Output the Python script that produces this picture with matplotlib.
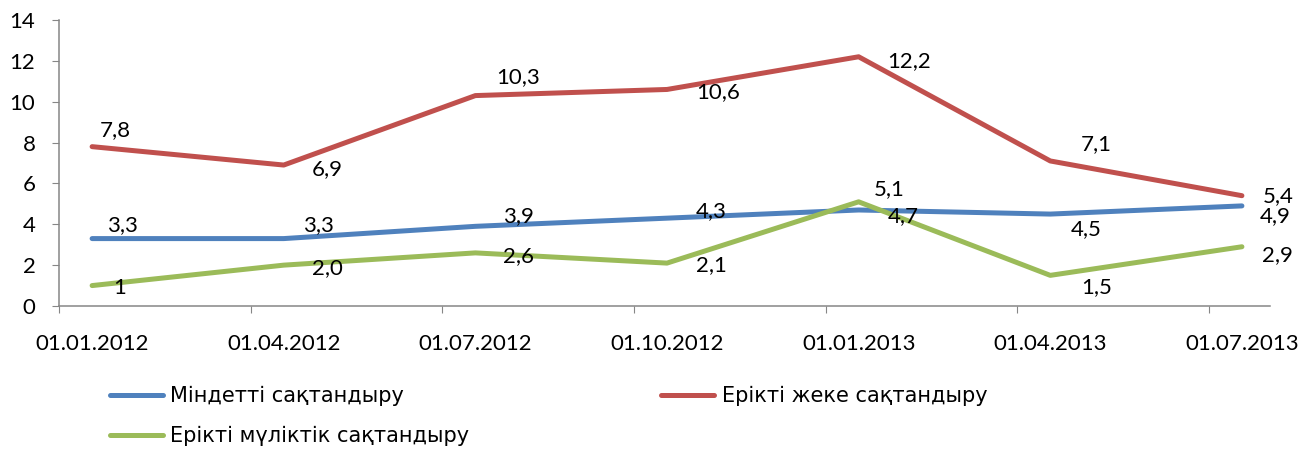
import numpy as np
import matplotlib
matplotlib.use('Agg')
import matplotlib.pyplot as plt

# data
dates = ['01.01.2012', '01.04.2012', '01.07.2012', '01.10.2012',
         '01.01.2013', '01.04.2013', '01.07.2013']
mindetti = [3.3, 3.3, 3.9, 4.3, 4.7, 4.5, 4.9]
erikti_zheke = [7.8, 6.9, 10.3, 10.6, 12.2, 7.1, 5.4]
erikti_mulik = [1.0, 2.0, 2.6, 2.1, 5.1, 1.5, 2.9]
mindetti_lbl = ['3,3', '3,3', '3,9', '4,3', '4,7', '4,5', '4,9']
zheke_lbl = ['7,8', '6,9', '10,3', '10,6', '12,2', '7,1', '5,4']
mulik_lbl = ['1', '2,0', '2,6', '2,1', '5,1', '1,5', '2,9']
names = ['Міндетті сақтандыру', 'Ерікті жеке сақтандыру', 'Ерікті мүліктік сақтандыру']

# label offsets in pixels (dx, dy down)
off_blue = [(30, -13), (35, -13), (43, -10), (44, -7), (45, 6), (36, 15), (33, 10)]
off_red = [(23, -17), (44, 4), (43, -18), (51, 3), (50, 4), (46, -17), (36, 0)]
off_green = [(28, 2), (44, 3), (43, 3), (44, 2), (31, -13), (46, 12), (36, 8)]

colors = ['#4F81BD', '#C0504D', '#9BBB59']
font = 'Lato'

fig = plt.figure(figsize=(13.02, 4.5), dpi=100)
ax = fig.add_axes([59 / 1302, 1 - 306 / 450, (1270 - 59) / 1302, (306 - 20) / 450])

x = np.arange(len(dates))
series = [(mindetti, mindetti_lbl, off_blue), (erikti_zheke, zheke_lbl, off_red),
          (erikti_mulik, mulik_lbl, off_green)]
lines = []
for (vals, lbls, offs), c, n in zip(series, colors, names):
    ln, = ax.plot(x, vals, color=c, lw=3.6, solid_joinstyle='round',
                  solid_capstyle='round', label=n, zorder=3)
    lines.append(ln)
for (vals, lbls, offs) in series:
    for xi, v, s, (dx, dy) in zip(x, vals, lbls, offs):
        ax.annotate(s, (xi, v), xytext=(dx * 0.72, -dy * 0.72), textcoords='offset points',
                    ha='center', va='center', fontsize=16, family=font, zorder=5)

left = -33 / 191
ax.set_xlim(left, 6 + 28 / 191)
ax.set_ylim(0, 14)
ax.set_yticks(range(0, 15, 2))
ax.set_xticks(np.arange(0, 7) + left)
ax.set_xticklabels([])
ax.set_xticks(x, dates, minor=True)
ax.tick_params(axis='x', which='major', length=5, color='#868686', direction='out')
ax.tick_params(axis='x', which='minor', length=0, pad=20)
ax.tick_params(axis='y', length=5, color='#868686', pad=12)
for lab in ax.get_xticklabels(minor=True) + ax.get_yticklabels():
    lab.set_fontsize(16)
    lab.set_family(font)

for s in ['top', 'right']:
    ax.spines[s].set_visible(False)
for s in ['left', 'bottom']:
    ax.spines[s].set_color('#868686')
    ax.spines[s].set_linewidth(1.1)

fig.legend(handles=[lines[0], lines[2], lines[1]],
           labels=[names[0], names[2], names[1]],
           ncol=2, loc='upper left', bbox_to_anchor=(110 / 1302, 1 - 386 / 450),
           frameon=False, prop={'family': 'DejaVu Sans', 'size': 15},
           handlelength=2.55, handletextpad=0.35, columnspacing=9.2,
           labelspacing=0.95, borderpad=0, borderaxespad=0)

fig.savefig('out.png', dpi=100)
